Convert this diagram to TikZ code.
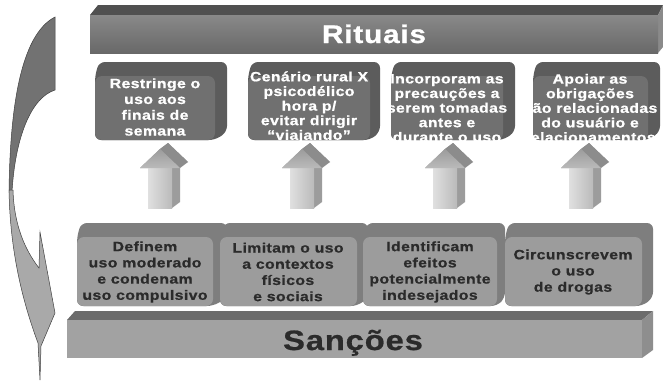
\documentclass[tikz,border=0pt]{standalone}
\usepackage{fontspec}
\newfontfamily\dfont[FakeStretch=1.17,LetterSpace=3,BoldFeatures={FakeBold=0.8}]{Liberation Sans}
\usetikzlibrary{calc}
\definecolor{ritfront}{HTML}{747474}
\definecolor{rittop}{HTML}{505050}
\definecolor{ritside}{HTML}{8A8A8A}
\definecolor{sanfront}{HTML}{A2A2A2}
\definecolor{santop}{HTML}{6C6C6C}
\definecolor{sanside}{HTML}{8E8E8E}
\definecolor{uhull}{HTML}{5C5C5C}
\definecolor{ufront}{HTML}{707070}
\definecolor{lhull}{HTML}{7E7E7E}
\definecolor{lfront}{HTML}{9C9C9C}
\definecolor{arrl}{HTML}{E0E0E0}
\definecolor{arrr}{HTML}{BABABA}
\definecolor{arrside}{HTML}{9C9C9C}
\definecolor{arrtop}{HTML}{8C8C8C}
\definecolor{darktext}{HTML}{2B2B2B}
\definecolor{curvedark}{HTML}{727272}
\definecolor{curvelight}{HTML}{A9A9A9}
\newcommand\solidbox[7]{%
  \fill[#6,rounded corners=6] (#1,#4) -- (#1,#2) -- ({#1+4},{#2-14}) -- ({#3+#5},{#2-14}) -- ({#3+#5},{#4-8}) -- (#3,#4) -- cycle;
  \fill[#7,rounded corners=7] (#1,#2) rectangle (#3,#4);
}
\newcommand\blockarrow[1]{%
  \fill[arrside] ({#1-12},208) -- ({#1-12},168) -- ({#1-20},168) -- (#1,149) -- ({#1+8},143) -- ({#1+28},162) -- ({#1+20},162) -- ({#1+20},202) -- ({#1+12},208) -- cycle;
  \fill[arrtop] (#1,149) -- ({#1+8},143) -- ({#1+28},162) -- ({#1+20},168) -- cycle;
  \shade[left color=arrl, right color=arrr] ({#1-12},208) -- ({#1-12},167.5) -- ({#1+12},167.5) -- ({#1+12},208) -- cycle;
  \shade[top color=arrside, bottom color=arrr] ({#1-20},168) -- (#1,149) -- ({#1+20},168) -- cycle;
}
\tikzset{
  utext/.style={font={\dfont\bfseries\fontsize{13.5}{15.8}\selectfont}, text=white, align=center, inner sep=0pt},
  utextv/.style={font={\dfont\bfseries\fontsize{13.5}{14.6}\selectfont}, text=white, align=center, inner sep=0pt},
  ltext/.style={font={\dfont\bfseries\fontsize{13.5}{16.2}\selectfont}, text=darktext, align=center, inner sep=0pt},
  curveline/.style={draw=black!75, line width=0.5pt}
}
\begin{document}
\begin{tikzpicture}[x=1pt,y=-1pt]
\useasboundingbox (0,0) rectangle (663,380);
\fill[white] (0,0) rectangle (663,380);

% curved arrow on the left
\filldraw[curveline, fill=curvedark] (55,17) -- (55,90) .. controls (30,98) and (15,140) .. (12,192) -- (9,192) .. controls (10,110) and (20,35) .. (55,17) -- cycle;
\filldraw[curveline, fill=curvelight] (9,190) .. controls (10,250) and (22,300) .. (38,343) -- (40,380) -- (41,346) -- (55,313) -- (40,232) -- (39,268) .. controls (25,250) and (14,225) .. (13,190) -- cycle;

% Rituais bar
\fill[rittop] (90,15) -- (98,5) -- (663,5) -- (658,15) -- cycle;
\fill[ritside] (658,15) -- (663,5) -- (663,47) -- (658,53) -- cycle;
\shade[top color=ritfront!85!white, bottom color=ritfront!90!black] (90,15) rectangle (658,53);
\node[font={\dfont\bfseries\fontsize{25.5}{30}\selectfont}, text=white, anchor=base] (rit) at (374,43) {Rituais};

% Sancoes bar
\fill[santop] (67,320) -- (75,311) -- (653,311) -- (642,320) -- cycle;
\fill[sanside] (642,320) -- (653,311) -- (653,350) -- (642,358) -- cycle;
\fill[sanfront] (67,320) rectangle (642,358);
\node[font={\dfont\bfseries\fontsize{28}{32}\selectfont}, text=darktext, anchor=base] (san) at (353,350) {Sanções};

% upper boxes
\solidbox{95}{76}{215}{140}{12}{uhull}{ufront}
\solidbox{248}{76}{370}{140}{10}{uhull}{ufront}
\solidbox{391}{76}{503}{140}{12}{uhull}{ufront}
\solidbox{533}{76}{648}{140}{12}{uhull}{ufront}
\node[utext] (u1) at (155,107) {Restringe o\\uso aos\\finais de\\semana};
\node[utextv] (u2) at (309,107) {Cenário rural X\\psicodélico\\hora p/\\evitar dirigir\\“viajando”};
\node[utextv] (u3) at (447,108) {Incorporam as\\precauções a\\serem tomadas\\antes e\\durante o uso};
\node[utextv] (u4) at (590,108) {Apoiar as\\obrigações\\não relacionadas\\do usuário e\\relacionamentos};

% lower boxes
\solidbox{77}{237}{213}{306}{14}{lhull}{lfront}
\solidbox{220}{237}{357}{306}{11}{lhull}{lfront}
\solidbox{363}{237}{497}{306}{8}{lhull}{lfront}
\solidbox{505}{237}{642}{306}{11}{lhull}{lfront}
\node[ltext] (l1) at (145,272) {Definem\\uso moderado\\e condenam\\uso compulsivo};
\node[ltext] (l2) at (288,272) {Limitam o uso\\a contextos\\físicos\\e sociais};
\node[ltext] (l3) at (430,272) {Identificam\\efeitos\\potencialmente\\indesejados};
\node[ltext] (l4) at (573,272) {Circunscrevem\\o uso\\de drogas};

% block arrows
\blockarrow{160}
\blockarrow{302}
\blockarrow{445}
\blockarrow{581}
\end{tikzpicture}
\end{document}
